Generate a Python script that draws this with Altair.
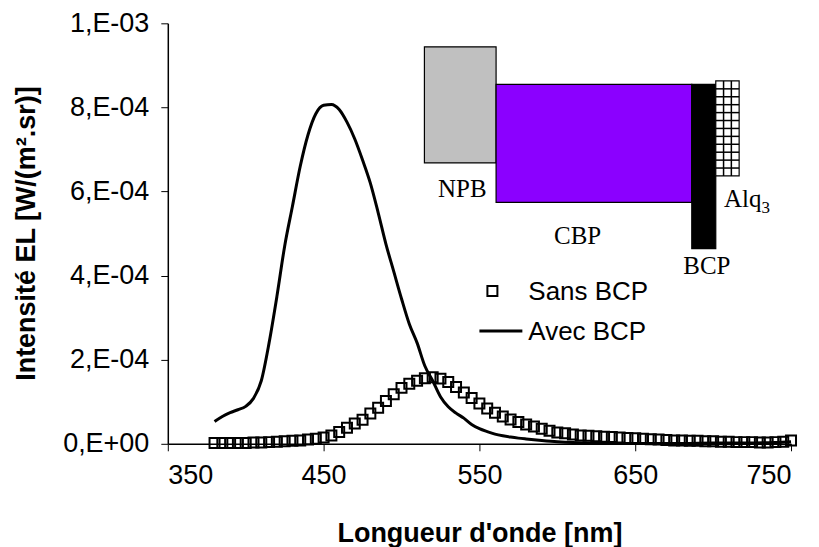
import altair as alt
import pandas as pd

# ---- data -----------------------------------------------------------------
wl_sans = [380, 385, 390, 395, 400, 405, 410, 415, 420, 425, 430, 435, 440, 445,
           450, 455, 460, 465, 470, 475, 480, 485, 490, 495, 500, 505, 510, 515,
           520, 525, 530, 535, 540, 545, 550, 555, 560, 565, 570, 575, 580, 585,
           590, 595, 600, 605, 610, 615, 620, 625, 630, 635, 640, 645, 650, 655,
           660, 665, 670, 675, 680, 685, 690, 695, 700, 705, 710, 715, 720, 725,
           730, 735, 740, 745, 750]
val_sans = [2e-6, 2e-6, 2e-6, 2e-6, 2e-6, 3e-6, 3e-6, 4e-6, 5e-6, 6e-6, 7e-6, 8e-6,
            1.0e-5, 1.2e-5, 1.5e-5, 2.0e-5, 2.8e-5, 3.8e-5, 4.8e-5, 5.7e-5, 7.2e-5,
            8.6e-5, 1.02e-4, 1.18e-4, 1.33e-4, 1.43e-4, 1.50e-4, 1.56e-4, 1.58e-4,
            1.55e-4, 1.47e-4, 1.35e-4, 1.22e-4, 1.09e-4, 9.6e-5, 8.4e-5, 7.4e-5,
            6.5e-5, 5.8e-5, 5.2e-5, 4.6e-5, 4.1e-5, 3.6e-5, 3.1e-5, 2.7e-5, 2.5e-5,
            2.2e-5, 2.0e-5, 1.9e-5, 1.8e-5, 1.7e-5, 1.6e-5, 1.5e-5, 1.4e-5, 1.3e-5,
            1.2e-5, 1.1e-5, 1.0e-5, 9e-6, 8e-6, 8e-6, 7e-6, 7e-6, 6e-6, 6e-6, 5e-6,
            5e-6, 4e-6, 4e-6, 4e-6, 3e-6, 3e-6, 4e-6, 5e-6, 8e-6]

wl_avec = [380, 385, 390, 395, 400, 405, 410, 415, 420, 425, 430, 435, 440, 445,
           450, 455, 460, 465, 470, 475, 480, 485, 490, 495, 500, 505, 510, 515,
           520, 525, 530, 535, 540, 545, 550, 555, 560, 565, 570, 575, 580, 590,
           600, 610, 620, 640, 660, 680, 700, 720, 740, 750]
val_avec = [5.3e-5, 6.5e-5, 7.4e-5, 8.1e-5, 8.9e-5, 1.08e-4, 1.5e-4, 2.4e-4, 3.5e-4,
            4.7e-4, 5.65e-4, 6.6e-4, 7.35e-4, 7.85e-4, 8.05e-4, 8.07e-4, 7.95e-4,
            7.65e-4, 7.25e-4, 6.75e-4, 6.2e-4, 5.5e-4, 4.75e-4, 4.1e-4, 3.45e-4,
            2.85e-4, 2.4e-4, 1.85e-4, 1.5e-4, 1.12e-4, 8.8e-5, 7.3e-5, 6.1e-5,
            4.6e-5, 3.6e-5, 2.9e-5, 2.3e-5, 1.9e-5, 1.6e-5, 1.35e-5, 1.15e-5, 8e-6,
            5e-6, 3e-6, 2e-6, 1e-6, 1e-6, 1e-6, 2e-6, 2e-6, 3e-6, 5e-6]

y_tick_values = [0, 2e-4, 4e-4, 6e-4, 8e-4, 1e-3]
y_tick_labels = ["0,E+00", "2,E-04", "4,E-04", "6,E-04", "8,E-04", "1,E-03"]
x_tick_values = [350, 450, 550, 650, 750]

series_names = ["Sans BCP", "Avec BCP"]

# energy-level inset (drawn in data coordinates)
layer_names = ["NPB", "CBP", "BCP", "Alq3"]
layer_x0 = [514.7, 560.7, 686.3, 701.7]
layer_x1 = [560.7, 686.3, 701.7, 716.7]
layer_top = [9.44e-4, 8.55e-4, 8.55e-4, 8.63e-4]
layer_bot = [6.68e-4, 5.74e-4, 4.64e-4, 6.37e-4]
layer_fill = ["#C0C0C0", "#8B00FF", "#000000", "#FFFFFF"]

inset_label_text = ["NPB", "CBP", "BCP"]
inset_label_x = [539.0, 613.0, 696.0]
inset_label_y = [5.88e-4, 4.76e-4, 4.05e-4]

# ---- frames ---------------------------------------------------------------
df_sans = pd.DataFrame({"wl": wl_sans, "v": val_sans})
df_avec = pd.DataFrame({"wl": wl_avec, "v": val_avec})
df_layers = pd.DataFrame({"name": layer_names, "x0": layer_x0, "x1": layer_x1,
                          "top": layer_top, "bot": layer_bot, "fill": layer_fill})
df_lbl = pd.DataFrame({"t": inset_label_text, "x": inset_label_x, "y": inset_label_y})

# Alq3 grid lines
ax0, ax1, at, ab = layer_x0[3], layer_x1[3], layer_top[3], layer_bot[3]
ncol, nrow = 3, 12
vlines = pd.DataFrame({"x": [ax0 + (ax1 - ax0) * i / ncol for i in range(1, ncol)],
                       "y0": at, "y1": ab})
hlines = pd.DataFrame({"y": [ab + (at - ab) * j / nrow for j in range(1, nrow)],
                       "x0": ax0, "x1": ax1})

xs = alt.Scale(domain=[350, 750], nice=False, zero=False)
ys = alt.Scale(domain=[0, 0.001], nice=False)

label_expr = "[" + ",".join("'%s'" % s for s in y_tick_labels) + "][round(datum.value*5000)]"

FONT = "Liberation Sans"
SERIF = "Liberation Serif"

x_axis = alt.Axis(values=x_tick_values, title="Longueur d'onde [nm]", grid=False,
                  domainColor="black", domainWidth=1.5, tickColor="black", tickSize=7,
                  labelFont=FONT, labelFontSize=27, labelColor="black", labelPadding=12,
                  titleFont=FONT, titleFontSize=27, titleFontWeight="bold",
                  titleColor="black", titleX=312, titleY=98, titleBaseline="alphabetic",
                  titleAlign="center")
y_axis = alt.Axis(values=y_tick_values, title="Intensité EL [W/(m².sr)]", grid=False,
                  labelExpr=label_expr, domainColor="black", domainWidth=1.5,
                  tickColor="black", tickSize=7, labelFont=FONT, labelFontSize=27,
                  labelColor="black", labelPadding=12, titleFont=FONT,
                  titleFontSize=27, titleFontWeight="bold", titleColor="black",
                  titleX=-141, titleY=210, titleAngle=-90, titleBaseline="middle",
                  titleAlign="center")

sans = alt.Chart(df_sans).mark_point(shape="square", filled=False, size=100,
                                     strokeWidth=2, color="black", opacity=1).encode(
    x=alt.X("wl:Q", scale=xs, axis=x_axis),
    y=alt.Y("v:Q", scale=ys, axis=y_axis),
)
avec = alt.Chart(df_avec).mark_line(color="black", strokeWidth=3,
                                    interpolate="monotone").encode(
    x=alt.X("wl:Q", scale=xs), y=alt.Y("v:Q", scale=ys))

rects = alt.Chart(df_layers).mark_rect(stroke="black", strokeWidth=1.2).encode(
    x=alt.X("x0:Q", scale=xs), x2="x1:Q",
    y=alt.Y("top:Q", scale=ys), y2="bot:Q",
    fill=alt.Fill("fill:N", scale=None),
)
vgrid = alt.Chart(vlines).mark_rule(color="black", strokeWidth=1.5).encode(
    x=alt.X("x:Q", scale=xs), y=alt.Y("y0:Q", scale=ys), y2="y1:Q")
hgrid = alt.Chart(hlines).mark_rule(color="black", strokeWidth=1.5).encode(
    y=alt.Y("y:Q", scale=ys), x=alt.X("x0:Q", scale=xs), x2="x1:Q")

inset_lbl = alt.Chart(df_lbl).mark_text(font=SERIF, fontSize=25, color="black",
                                        align="center", baseline="alphabetic").encode(
    x=alt.X("x:Q", scale=xs), y=alt.Y("y:Q", scale=ys), text="t:N")
alq = alt.Chart(pd.DataFrame({"t": ["Alq"], "x": [707.0], "y": [5.62e-4]})).mark_text(
    font=SERIF, fontSize=25, color="black", align="left", baseline="alphabetic").encode(
    x=alt.X("x:Q", scale=xs), y=alt.Y("y:Q", scale=ys), text="t:N")
alq3 = alt.Chart(pd.DataFrame({"t": ["3"], "x": [731.0], "y": [5.50e-4]})).mark_text(
    font=SERIF, fontSize=17, color="black", align="left", baseline="alphabetic").encode(
    x=alt.X("x:Q", scale=xs), y=alt.Y("y:Q", scale=ys), text="t:N")

# legend (manual)
leg_df = pd.DataFrame({"t": series_names})
leg_sym = alt.Chart(leg_df.iloc[[0]]).mark_point(shape="square", filled=False, size=100,
                                                 strokeWidth=2, color="black",
                                                 opacity=1).encode(
    x=alt.value(325), y=alt.value(268))
leg_line = alt.Chart(leg_df.iloc[[1]]).mark_rule(color="black", strokeWidth=3).encode(
    x=alt.value(312), x2=alt.value(355), y=alt.value(308))
leg_txt1 = alt.Chart(leg_df.iloc[[0]]).mark_text(font=FONT, fontSize=26, color="black",
                                                 align="left", baseline="middle").encode(
    x=alt.value(361), y=alt.value(269), text="t:N")
leg_txt2 = alt.Chart(leg_df.iloc[[1]]).mark_text(font=FONT, fontSize=26, color="black",
                                                 align="left", baseline="middle").encode(
    x=alt.value(361), y=alt.value(309), text="t:N")

chart = alt.layer(sans, avec, rects, vgrid, hgrid, inset_lbl, alq, alq3,
                  leg_sym, leg_line, leg_txt1, leg_txt2).properties(
    width=624, height=421,
    autosize=alt.AutoSizeParams(type="none"),
    padding={"left": 160, "top": 15, "right": 20, "bottom": 115},
    background="white",
).configure_view(stroke=None)

chart.save("out.html", embed_options={"renderer": "svg", "actions": False})
